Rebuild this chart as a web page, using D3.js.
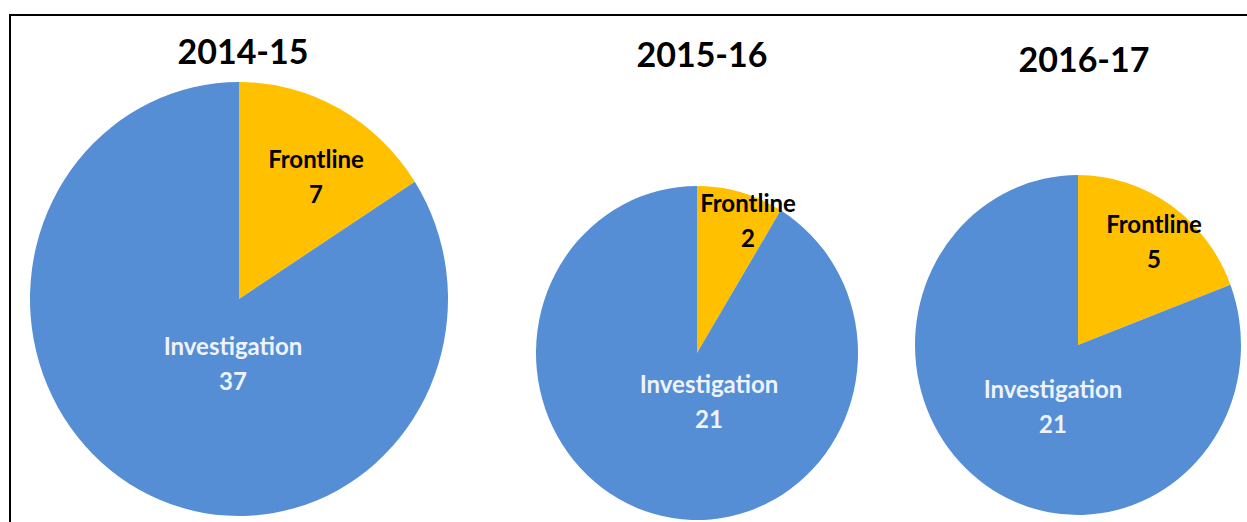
<!DOCTYPE html>
<html>
<head>
<meta charset="utf-8">
<script src="https://cdn.jsdelivr.net/npm/d3@7"></script>
<style>
  html, body { margin: 0; padding: 0; background: #fff; }
  svg { display: block; }
  text { font-family: Lato, "Open Sans", sans-serif; font-weight: bold; }
</style>
</head>
<body>
<svg id="chart"></svg>
<script>
// Complaints by team, one pie per year
var years = ["2014-15", "2015-16", "2016-17"];
var categories = ["Frontline", "Investigation"];
var frontline = [7, 2, 5];
var investigation = [37, 21, 21];

var W = 1247, H = 522;
var blue = "#558ed5", yellow = "#ffc000";

// layout of each pie (the source image is slightly stretched, so ellipses)
var layout = [
  {cx: 239, cy: 299, rx: 209, ry: 217, titleY: 64,
   lab: [[77, -131], [-6, 56]]},
  {cx: 697, cy: 353, rx: 161, ry: 167, titleY: 67,
   lab: [[51, -141], [12, 40]]},
  {cx: 1078, cy: 345, rx: 163, ry: 170, titleY: 72,
   lab: [[76, -112], [-25, 53]]}
];
var titleX = [243, 702, 1084];

var svg = d3.select("#chart").attr("width", W).attr("height", H);

// frame: top and left edge only
svg.append("line").attr("x1", 10).attr("x2", W).attr("y1", 15).attr("y2", 15)
    .attr("stroke", "#000").attr("stroke-width", 2);
svg.append("line").attr("x1", 10).attr("x2", 10).attr("y1", 14).attr("y2", H)
    .attr("stroke", "#000").attr("stroke-width", 2);

var color = d3.scaleOrdinal().domain(categories).range([yellow, blue]);

var pie = d3.pie().sort(null).value(function(d) { return d.value; });

years.forEach(function(yr, i) {
    var L = layout[i];
    var data = [
        {name: categories[0], value: frontline[i]},
        {name: categories[1], value: investigation[i]}
    ];
    var arc = d3.arc().innerRadius(0).outerRadius(L.ry);

    var g = svg.append("g")
        .attr("transform", "translate(" + L.cx + "," + L.cy + ")");

    g.append("g")
        .attr("transform", "scale(" + (L.rx / L.ry) + ",1)")
      .selectAll("path")
        .data(pie(data))
        .enter()
      .append("path")
        .attr("d", arc)
        .attr("fill", function(d) { return color(d.data.name); });

    // data labels: category name and value
    var lbl = g.selectAll("g.lbl")
        .data(data)
        .enter()
      .append("g")
        .attr("class", "lbl")
        .attr("transform", function(d, j) {
            return "translate(" + L.lab[j][0] + "," + L.lab[j][1] + ")";
        })
        .attr("fill", function(d, j) { return j == 0 ? "#000" : "#eef3fb"; })
        .attr("text-anchor", "middle")
        .style("font-size", "24px");
    lbl.append("text").text(function(d) { return d.name; });
    lbl.append("text").attr("y", 35).text(function(d) { return d.value; });

    svg.append("text")
        .attr("x", titleX[i])
        .attr("y", L.titleY)
        .attr("text-anchor", "middle")
        .style("font-size", "34px")
        .attr("fill", "#000")
        .text(yr);
});
</script>
</body>
</html>
